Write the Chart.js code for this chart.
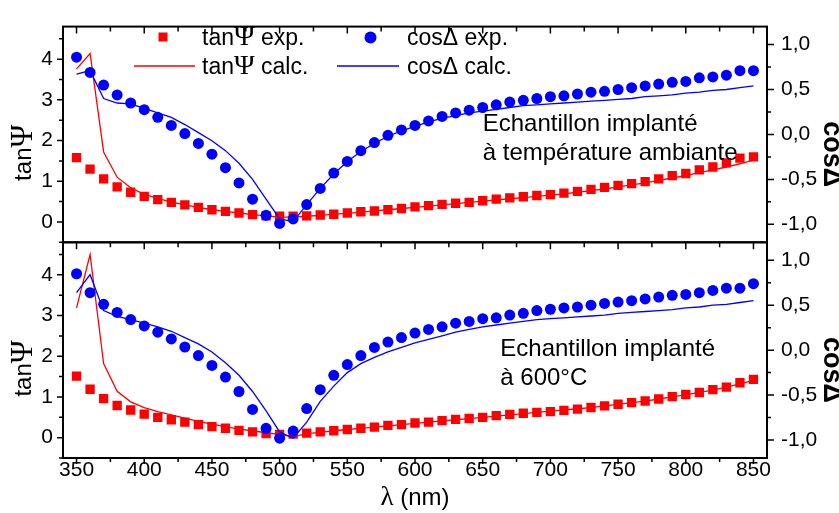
<!DOCTYPE html>
<html>
<head>
<meta charset="utf-8">
<script src="https://cdn.jsdelivr.net/npm/chart.js@4.4.0/dist/chart.umd.min.js"></script>
<style>
    html, body { margin: 0; padding: 0; background: #fff; }
</style>
</head>
<body>
<canvas id="graphe" width="839" height="513"></canvas>
<script>
// longueurs d'onde (nm)
const lambda = [350, 360, 370, 380, 390, 400, 410, 420, 430, 440,
    450, 460, 470, 480, 490, 500, 510, 520, 530, 540,
    550, 560, 570, 580, 590, 600, 610, 620, 630, 640,
    650, 660, 670, 680, 690, 700, 710, 720, 730, 740,
    750, 760, 770, 780, 790, 800, 810, 820, 830, 840, 850];

// echantillon implante a temperature ambiante (panneau du haut)
const tanExpHaut = [1.58, 1.30, 1.06, 0.86, 0.73, 0.63, 0.55, 0.48, 0.42, 0.36,
    0.30, 0.26, 0.22, 0.18, 0.15, 0.14, 0.14, 0.15, 0.17, 0.19,
    0.22, 0.25, 0.27, 0.30, 0.33, 0.37, 0.40, 0.43, 0.46, 0.48,
    0.52, 0.56, 0.59, 0.62, 0.65, 0.67, 0.71, 0.75, 0.80, 0.85,
    0.90, 0.94, 0.99, 1.06, 1.14, 1.19, 1.28, 1.35, 1.45, 1.57, 1.60];
const tanCalcHaut = [3.76, 4.14, 1.72, 1.10, 0.84, 0.68, 0.58, 0.49, 0.42, 0.36,
    0.30, 0.26, 0.22, 0.18, 0.15, 0.12, 0.12, 0.14, 0.16, 0.19,
    0.21, 0.24, 0.27, 0.30, 0.33, 0.36, 0.39, 0.42, 0.45, 0.48,
    0.51, 0.54, 0.57, 0.60, 0.63, 0.66, 0.69, 0.73, 0.77, 0.81,
    0.86, 0.91, 0.96, 1.02, 1.08, 1.14, 1.21, 1.28, 1.35, 1.43, 1.52];
const cosExpHaut = [0.86, 0.69, 0.55, 0.44, 0.35, 0.275, 0.19, 0.10, 0.01, -0.10,
    -0.22, -0.37, -0.54, -0.72, -0.90, -0.99, -0.94, -0.78, -0.60, -0.43,
    -0.30, -0.18, -0.09, -0.01, 0.05, 0.10, 0.15, 0.20, 0.24, 0.27,
    0.30, 0.33, 0.36, 0.38, 0.40, 0.42, 0.43, 0.45, 0.47, 0.48,
    0.50, 0.52, 0.54, 0.56, 0.58, 0.59, 0.63, 0.64, 0.66, 0.71, 0.71];
const cosCalcHaut = [0.67, 0.71, 0.40, 0.35, 0.34, 0.29, 0.24, 0.19, 0.11, 0.02,
    -0.07, -0.18, -0.32, -0.50, -0.72, -0.94, -0.97, -0.78, -0.60, -0.44,
    -0.30, -0.19, -0.10, -0.02, 0.04, 0.09, 0.14, 0.18, 0.21, 0.24,
    0.26, 0.28, 0.30, 0.32, 0.33, 0.34, 0.35, 0.36, 0.37, 0.38,
    0.39, 0.40, 0.42, 0.43, 0.44, 0.46, 0.47, 0.49, 0.50, 0.52, 0.54];

// echantillon implante a 600°C (panneau du bas)
const tanExpBas = [1.51, 1.19, 0.96, 0.79, 0.68, 0.58, 0.50, 0.44, 0.38, 0.32,
    0.27, 0.23, 0.18, 0.14, 0.10, 0.08, 0.09, 0.11, 0.14, 0.17,
    0.20, 0.23, 0.26, 0.30, 0.32, 0.36, 0.38, 0.42, 0.45, 0.47,
    0.50, 0.54, 0.57, 0.60, 0.62, 0.64, 0.67, 0.70, 0.74, 0.78,
    0.82, 0.86, 0.90, 0.95, 1.01, 1.06, 1.11, 1.18, 1.24, 1.35, 1.43];
const tanCalcBas = [3.19, 4.50, 1.82, 1.14, 0.88, 0.74, 0.64, 0.56, 0.48, 0.40,
    0.33, 0.27, 0.21, 0.17, 0.12, 0.08, 0.02, 0.10, 0.13, 0.17,
    0.20, 0.23, 0.26, 0.29, 0.32, 0.35, 0.38, 0.41, 0.44, 0.47,
    0.50, 0.53, 0.56, 0.59, 0.62, 0.65, 0.68, 0.71, 0.74, 0.78,
    0.82, 0.86, 0.90, 0.95, 1.00, 1.05, 1.11, 1.17, 1.24, 1.32, 1.41];
const cosExpBas = [0.85, 0.64, 0.51, 0.42, 0.34, 0.27, 0.20, 0.125, 0.035, -0.06,
    -0.17, -0.30, -0.46, -0.66, -0.87, -0.98, -0.90, -0.65, -0.44, -0.28,
    -0.16, -0.06, 0.03, 0.09, 0.14, 0.19, 0.23, 0.26, 0.30, 0.32,
    0.35, 0.36, 0.39, 0.41, 0.44, 0.455, 0.47, 0.48, 0.50, 0.52,
    0.535, 0.55, 0.57, 0.59, 0.61, 0.62, 0.64, 0.665, 0.69, 0.69, 0.74];
const cosCalcBas = [0.64, 0.84, 0.44, 0.375, 0.34, 0.30, 0.26, 0.21, 0.14, 0.07,
    -0.02, -0.14, -0.28, -0.46, -0.675, -0.91, -0.98, -0.80, -0.57, -0.40,
    -0.25, -0.15, -0.08, -0.02, 0.03, 0.08, 0.12, 0.16, 0.20, 0.23,
    0.26, 0.28, 0.30, 0.32, 0.34, 0.35, 0.36, 0.37, 0.38, 0.39,
    0.41, 0.42, 0.43, 0.44, 0.45, 0.47, 0.48, 0.50, 0.51, 0.53, 0.55];

// graduations
const xTicks = [350, 400, 450, 500, 550, 600, 650, 700, 750, 800, 850];
const xMinor = [375, 425, 475, 525, 575, 625, 675, 725, 775, 825];
const tanTicks = [0, 1, 2, 3, 4];
const tanMinor = [-0.5, 0.5, 1.5, 2.5, 3.5, 4.5];
const cosTicks = [-1, -0.5, 0, 0.5, 1];
const cosMinor = [-0.75, -0.25, 0.25, 0.75];

const ROUGE = '#ff0000';
const BLEU = '#0000ff';
const SANS = '"Liberation Sans", Arial, sans-serif';
const SERIF = '"Liberation Serif", "Times New Roman", serif';

function points(valeurs) {
    return lambda.map((l, i) => ({ x: l, y: valeurs[i] }));
}

function serieExp(valeurs, axe, couleur, style, rayon) {
    return {
        data: points(valeurs), yAxisID: axe, showLine: false,
        pointStyle: style, pointRadius: rayon, borderWidth: 0,
        backgroundColor: couleur, borderColor: couleur, order: style === 'rect' ? 4 : 2
    };
}

function serieCalc(valeurs, axe, couleur) {
    return {
        data: points(valeurs), yAxisID: axe, showLine: true, pointRadius: 0,
        borderColor: couleur, borderWidth: 1.3, tension: 0, fill: false,
        order: couleur === ROUGE ? 3 : 1
    };
}

// texte avec morceaux de polices differentes (Psi, Delta, lambda)
function morceaux(ctx, parts) {
    let w = 0;
    parts.forEach(p => { ctx.font = p[1]; w += ctx.measureText(p[0]).width; });
    return w;
}
function ecrire(ctx, parts, x, y) {
    ctx.textAlign = 'left';
    parts.forEach(p => {
        ctx.font = p[1];
        ctx.fillText(p[0], x, y);
        x += ctx.measureText(p[0]).width;
    });
}

const fs = (n, b) => (b ? 'bold ' : '') + n + 'px ' + SANS;
const fsr = n => n + 'px ' + SERIF;

const cadre = {
    id: 'cadre',
    afterDatasetsDraw(chart) {
        const ctx = chart.ctx;
        const ca = chart.chartArea;
        const sx = chart.scales.x;
        const panneaux = [
            { tan: chart.scales.yTanHaut, cos: chart.scales.yCosHaut },
            { tan: chart.scales.yTanBas, cos: chart.scales.yCosBas }
        ];
        ctx.save();
        ctx.strokeStyle = '#000';
        ctx.fillStyle = '#000';

        panneaux.forEach((p) => {
            const haut = p.tan.top, bas = p.tan.bottom;
            const dernier = bas >= ca.bottom - 1;
            ctx.lineWidth = 1.5;
            ctx.beginPath();
            // graduations x vers l'interieur en haut de chaque panneau
            xTicks.forEach(v => { const px = sx.getPixelForValue(v); ctx.moveTo(px, haut); ctx.lineTo(px, haut + 7); });
            xMinor.forEach(v => { const px = sx.getPixelForValue(v); ctx.moveTo(px, haut); ctx.lineTo(px, haut + 5); });
            if (dernier) {
                xTicks.forEach(v => { const px = sx.getPixelForValue(v); ctx.moveTo(px, bas); ctx.lineTo(px, bas + 6); });
                xMinor.forEach(v => { const px = sx.getPixelForValue(v); ctx.moveTo(px, bas); ctx.lineTo(px, bas + 4); });
            }
            tanTicks.forEach(v => { const py = p.tan.getPixelForValue(v); ctx.moveTo(ca.left - 6, py); ctx.lineTo(ca.left, py); });
            tanMinor.forEach(v => { const py = p.tan.getPixelForValue(v); ctx.moveTo(ca.left - 4, py); ctx.lineTo(ca.left, py); });
            cosTicks.forEach(v => { const py = p.cos.getPixelForValue(v); ctx.moveTo(ca.right, py); ctx.lineTo(ca.right + 7, py); });
            cosMinor.forEach(v => { const py = p.cos.getPixelForValue(v); ctx.moveTo(ca.right, py); ctx.lineTo(ca.right + 4, py); });
            ctx.stroke();

            ctx.lineWidth = 2;
            ctx.strokeRect(ca.left, haut, ca.right - ca.left, bas - haut);

            // titres des axes verticaux
            ctx.textBaseline = 'middle';
            const titreG = [['tan', fs(24)], ['Ψ', fsr(31)]];
            const wg = morceaux(ctx, titreG);
            ctx.save();
            ctx.translate(24, p.tan.getPixelForValue(1.7));
            ctx.rotate(-Math.PI / 2);
            ecrire(ctx, titreG, -wg / 2, 0);
            ctx.restore();

            const titreD = [['cosΔ', fs(27, true)]];
            const wd = morceaux(ctx, titreD);
            ctx.save();
            ctx.translate(831, p.cos.getPixelForValue(-0.22));
            ctx.rotate(Math.PI / 2);
            ecrire(ctx, titreD, -wd / 2, 0);
            ctx.restore();
        });

        // titre axe x
        ctx.textBaseline = 'middle';
        const titreX = [['λ', fsr(27)], [' (nm)', fs(24)]];
        const wx = morceaux(ctx, titreX);
        ecrire(ctx, titreX, (ca.left + ca.right) / 2 - wx / 2, 498);

        // legende
        ctx.textBaseline = 'alphabetic';
        ctx.fillStyle = ROUGE;
        ctx.fillRect(158.5, 32.5, 9, 9);
        ctx.fillStyle = BLEU;
        ctx.beginPath();
        ctx.arc(370.5, 37.5, 6, 0, 2 * Math.PI);
        ctx.fill();
        ctx.lineWidth = 1.3;
        ctx.strokeStyle = ROUGE;
        ctx.beginPath(); ctx.moveTo(134, 66); ctx.lineTo(195, 66); ctx.stroke();
        ctx.strokeStyle = BLEU;
        ctx.beginPath(); ctx.moveTo(337, 66); ctx.lineTo(399, 66); ctx.stroke();
        ctx.fillStyle = '#000';
        ecrire(ctx, [['tan', fs(23)], ['Ψ', fsr(28)], [' exp.', fs(23)]], 202, 45);
        ecrire(ctx, [['tan', fs(23)], ['Ψ', fsr(28)], [' calc.', fs(23)]], 202, 74);
        ecrire(ctx, [['cosΔ exp.', fs(23)]], 407, 45);
        ecrire(ctx, [['cosΔ calc.', fs(23)]], 407, 74);

        // annotations des echantillons
        const yH = chart.scales.yTanHaut, yB = chart.scales.yTanBas;
        ecrire(ctx, [['Echantillon implanté', fs(24)]], sx.getPixelForValue(650), yH.getPixelForValue(2.23));
        ecrire(ctx, [['à température ambiante', fs(24)]], sx.getPixelForValue(650), yH.getPixelForValue(1.51));
        ecrire(ctx, [['Echantillon implanté', fs(24)]], sx.getPixelForValue(663), yB.getPixelForValue(2.01));
        ecrire(ctx, [['à 600°C', fs(24)]], sx.getPixelForValue(663), yB.getPixelForValue(1.29));
        ctx.restore();
    }
};

function axeTan() {
    return {
        type: 'linear', position: 'left', stack: 'gauche', stackWeight: 1,
        min: -0.5, max: 4.8,
        afterBuildTicks: s => { s.ticks = tanTicks.map(v => ({ value: v })); },
        afterFit: s => { s.width = 63; },
        grid: { display: false, drawTicks: false }, border: { display: false },
        ticks: { font: { family: SANS, size: 21 }, color: '#000', padding: 10, callback: v => String(v) }
    };
}
function axeCos() {
    return {
        type: 'linear', position: 'right', stack: 'droite', stackWeight: 1,
        min: -1.2, max: 1.2,
        afterBuildTicks: s => { s.ticks = cosTicks.map(v => ({ value: v })); },
        afterFit: s => { s.width = 72; },
        grid: { display: false, drawTicks: false }, border: { display: false },
        ticks: { font: { family: SANS, size: 21 }, color: '#000', padding: 14,
            callback: v => v.toFixed(1).replace('.', ',') }
    };
}

const ctx = document.getElementById('graphe').getContext('2d');
new Chart(ctx, {
    type: 'scatter',
    data: {
        datasets: [
            serieExp(tanExpHaut, 'yTanHaut', ROUGE, 'rect', 6.6),
            serieCalc(tanCalcHaut, 'yTanHaut', ROUGE),
            serieExp(cosExpHaut, 'yCosHaut', BLEU, 'circle', 5.5),
            serieCalc(cosCalcHaut, 'yCosHaut', BLEU),
            serieExp(tanExpBas, 'yTanBas', ROUGE, 'rect', 6.6),
            serieCalc(tanCalcBas, 'yTanBas', ROUGE),
            serieExp(cosExpBas, 'yCosBas', BLEU, 'circle', 5.5),
            serieCalc(cosCalcBas, 'yCosBas', BLEU)
        ]
    },
    options: {
        responsive: false,
        animation: false,
        devicePixelRatio: 1,
        events: [],
        layout: { padding: { top: 15, left: 0, right: 0, bottom: 0 } },
        plugins: { legend: { display: false }, tooltip: { enabled: false } },
        scales: {
            x: {
                type: 'linear', position: 'bottom', min: 340, max: 860,
                afterBuildTicks: s => { s.ticks = xTicks.map(v => ({ value: v })); },
                afterFit: s => { s.height = 55; },
                grid: { display: false, drawTicks: false }, border: { display: false },
                ticks: { font: { family: SANS, size: 21 }, color: '#000', padding: 0,
                    maxRotation: 0, autoSkip: false, callback: v => String(v) }
            },
            // pile de gauche : ordre inverse (le dernier declare va en haut)
            yTanBas: axeTan(),
            yTanHaut: axeTan(),
            // pile de droite : le premier declare va en haut
            yCosHaut: axeCos(),
            yCosBas: axeCos()
        }
    },
    plugins: [cadre]
});
</script>
</body>
</html>
